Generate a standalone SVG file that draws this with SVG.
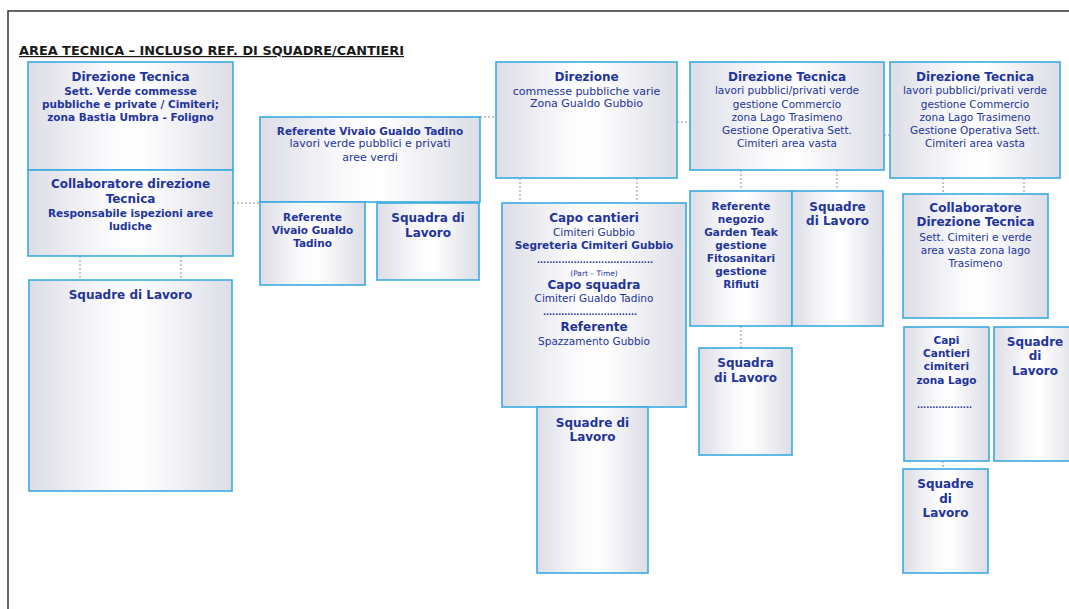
<svg xmlns="http://www.w3.org/2000/svg" width="1069" height="609" viewBox="0 0 1069 609">
<defs>
<linearGradient id="g" x1="0" y1="0" x2="1" y2="0">
<stop offset="0" stop-color="#dcdde6"/>
<stop offset="0.4" stop-color="#fbfbfd"/>
<stop offset="0.55" stop-color="#ffffff"/>
<stop offset="1" stop-color="#dcdde6"/>
</linearGradient>
<style>
.box{fill:url(#g);stroke:#3aaae2;stroke-width:1.6}
text{font-family:"DejaVu Sans",Verdana,sans-serif;fill:#22349b;text-anchor:middle}
.h{font-size:12px;font-weight:bold}
.b{font-size:10.5px;font-weight:bold}
.r{font-size:10.5px}
.r2{font-size:11px}
.s{font-size:7.5px}
.d{font-size:8px;font-weight:bold}
.con{stroke:#8a8a8a;stroke-width:1;stroke-dasharray:2 2;fill:none}
.frame{stroke:#333;stroke-width:1.5;fill:none}
.title{font-size:12px;font-weight:bold;fill:#1a1a1a;text-anchor:start;text-decoration:underline}
</style>
</defs>
<rect x="0" y="0" width="1069" height="609" fill="#ffffff"/>
<path class="frame" d="M8,609 V11 H1069"/>
<text class="title" x="19" y="55" textLength="385" lengthAdjust="spacingAndGlyphs">AREA TECNICA – INCLUSO REF. DI SQUADRE/CANTIERI</text>

<g id="connectors">
<path class="con" d="M80,256 V280 M181,256 V280"/>
<path class="con" d="M233,203 H260"/>
<path class="con" d="M480,117 H496"/>
<path class="con" d="M520,178 V203 M637,178 V203"/>
<path class="con" d="M677,122 H690"/>
<path class="con" d="M741,170 V191 M837,170 V191"/>
<path class="con" d="M741,326 V348"/>
<path class="con" d="M884,135 H890"/>
<path class="con" d="M943,178 V194 M1024,178 V194"/>
<path class="con" d="M943,461 V469"/>
</g>

<g id="n-dir-tecnica-1">
<rect class="box" x="28" y="62" width="205" height="108"/>
<text class="h" x="130.5" y="81">Direzione Tecnica</text>
<text class="b" x="130.5" y="95">Sett. Verde commesse</text>
<text class="b" x="130.5" y="108">pubbliche e private / Cimiteri;</text>
<text class="b" x="130.5" y="121">zona Bastia Umbra - Foligno</text>
</g>
<g id="n-collab-1">
<rect class="box" x="28" y="170" width="205" height="86"/>
<text class="h" x="130.5" y="188">Collaboratore direzione</text>
<text class="h" x="130.5" y="203">Tecnica</text>
<text class="b" x="130.5" y="217">Responsabile ispezioni aree</text>
<text class="b" x="130.5" y="230">ludiche</text>
</g>
<g id="n-squadre-1">
<rect class="box" x="29" y="280" width="203" height="211"/>
<text class="h" x="130.5" y="299">Squadre di Lavoro</text>
</g>

<g id="n-ref-vivaio">
<rect class="box" x="260" y="117" width="220" height="85"/>
<text class="b" x="370" y="135">Referente Vivaio Gualdo Tadino</text>
<text class="r2" x="370" y="147">lavori verde pubblici e privati</text>
<text class="r2" x="370" y="161">aree verdi</text>
</g>
<g id="n-ref-vivaio-2">
<rect class="box" x="260" y="202" width="105" height="83"/>
<text class="b" x="312.5" y="221">Referente</text>
<text class="b" x="312.5" y="234">Vivaio Gualdo</text>
<text class="b" x="312.5" y="247">Tadino</text>
</g>
<g id="n-squadra-2">
<rect class="box" x="377" y="203" width="102" height="77"/>
<text class="h" x="428" y="222">Squadra di</text>
<text class="h" x="428" y="237">Lavoro</text>
</g>

<g id="n-direzione">
<rect class="box" x="496" y="62" width="181" height="116"/>
<text class="h" x="586.5" y="81">Direzione</text>
<text class="r2" x="586.5" y="95">commesse pubbliche varie</text>
<text class="r2" x="586.5" y="107">Zona Gualdo Gubbio</text>
</g>
<g id="n-capo-cantieri">
<rect class="box" x="502" y="203" width="184" height="204"/>
<text class="h" x="594" y="222">Capo cantieri</text>
<text class="r" x="594" y="236">Cimiteri Gubbio</text>
<text class="b" x="594" y="249">Segreteria Cimiteri Gubbio</text>
<text class="d" x="595" y="263" textLength="116" lengthAdjust="spacing">......................................</text>
<text class="s" x="594" y="276">(Part – Time)</text>
<text class="h" x="594" y="289">Capo squadra</text>
<text class="r" x="594" y="302">Cimiteri Gualdo Tadino</text>
<text class="d" x="590" y="315" textLength="94" lengthAdjust="spacing">...............................</text>
<text class="h" x="594" y="331">Referente</text>
<text class="r" x="594" y="345">Spazzamento Gubbio</text>
</g>
<g id="n-squadre-3">
<rect class="box" x="537" y="407" width="111" height="166"/>
<text class="h" x="592.5" y="427">Squadre di</text>
<text class="h" x="592.5" y="441">Lavoro</text>
</g>

<g id="n-dir-tecnica-2">
<rect class="box" x="690" y="62" width="194" height="108"/>
<text class="h" x="787" y="81">Direzione Tecnica</text>
<text class="r" x="787" y="94">lavori pubblici/privati verde</text>
<text class="r" x="787" y="107.5">gestione Commercio</text>
<text class="r" x="787" y="121">zona Lago Trasimeno</text>
<text class="r" x="787" y="134">Gestione Operativa Sett.</text>
<text class="r" x="787" y="147">Cimiteri area vasta</text>
</g>
<g id="n-ref-negozio">
<rect class="box" x="690" y="191" width="102" height="135"/>
<text class="b" x="741" y="210">Referente</text>
<text class="b" x="741" y="223">negozio</text>
<text class="b" x="741" y="236">Garden Teak</text>
<text class="b" x="741" y="249">gestione</text>
<text class="b" x="741" y="262">Fitosanitari</text>
<text class="b" x="741" y="275">gestione</text>
<text class="b" x="741" y="288">Rifiuti</text>
</g>
<g id="n-squadre-4">
<rect class="box" x="792" y="191" width="91" height="135"/>
<text class="h" x="837.5" y="211">Squadre</text>
<text class="h" x="837.5" y="225">di Lavoro</text>
</g>
<g id="n-squadra-5">
<rect class="box" x="699" y="348" width="93" height="107"/>
<text class="h" x="745.5" y="367">Squadra</text>
<text class="h" x="745.5" y="382">di Lavoro</text>
</g>

<g id="n-dir-tecnica-3">
<rect class="box" x="890" y="62" width="170" height="116"/>
<text class="h" x="975" y="81">Direzione Tecnica</text>
<text class="r" x="975" y="94">lavori pubblici/privati verde</text>
<text class="r" x="975" y="107.5">gestione Commercio</text>
<text class="r" x="975" y="121">zona Lago Trasimeno</text>
<text class="r" x="975" y="134">Gestione Operativa Sett.</text>
<text class="r" x="975" y="147">Cimiteri area vasta</text>
</g>
<g id="n-collab-3">
<rect class="box" x="903" y="194" width="145" height="124"/>
<text class="h" x="975.5" y="212">Collaboratore</text>
<text class="h" x="975.5" y="226">Direzione Tecnica</text>
<text class="r" x="975.5" y="241">Sett. Cimiteri e verde</text>
<text class="r" x="975.5" y="254">area vasta zona lago</text>
<text class="r" x="975.5" y="267">Trasimeno</text>
</g>
<g id="n-capi-cantieri">
<rect class="box" x="904" y="327" width="85" height="134"/>
<text class="b" x="946.5" y="344">Capi</text>
<text class="b" x="946.5" y="357">Cantieri</text>
<text class="b" x="946.5" y="370">cimiteri</text>
<text class="b" x="946.5" y="384">zona Lago</text>
<text class="d" x="944.5" y="408" textLength="55" lengthAdjust="spacing">..................</text>
</g>
<g id="n-squadre-6">
<rect class="box" x="994" y="327" width="85" height="134"/>
<text class="h" x="1035" y="346">Squadre</text>
<text class="h" x="1035" y="360">di</text>
<text class="h" x="1035" y="375">Lavoro</text>
</g>
<g id="n-squadre-7">
<rect class="box" x="903" y="469" width="85" height="104"/>
<text class="h" x="945.5" y="488">Squadre</text>
<text class="h" x="945.5" y="503">di</text>
<text class="h" x="945.5" y="517">Lavoro</text>
</g>
</svg>
